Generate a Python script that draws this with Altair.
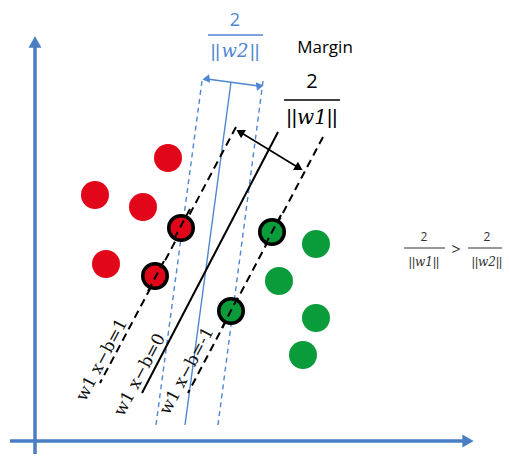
import altair as alt
import pandas as pd

# ---- data (units measured from the axis origin) ----
red_x = [133, 60, 108, 71]
red_y = [283, 246, 234, 177]
red_sv_x = [146, 120]
red_sv_y = [213, 165]
green_x = [281, 244, 281, 268]
green_y = [197, 160, 123, 86]
green_sv_x = [237, 196]
green_sv_y = [209, 130]

# lines: (x1, y1, x2, y2)
black_dashed = [(201, 314, 65, 58), (288, 304, 153, 48)]
black_solid = [(243, 309, 107, 48)]
blue_dashed = [(167, 360, 121, 16), (228, 360, 183, 16)]
blue_solid = [(196, 359, 150, 16)]
axes_lines = [(0, -21, 0, 396), (-25, 0, 430, 0)]
blue_arrow = [(172, 362, 224, 355)]
black_arrow = [(205, 309, 264, 273)]

line_labels = ["w1 x−b=1", "w1 x−b=0", "w1 x−b=-1"]
line_label_x = [67, 105, 152]
line_label_y = [81, 66, 70]

RED = "#E2061A"
GREEN = "#0A9B3B"
BLUE = "#4F86D0"
AXIS = "#4A7EC2"

X = alt.Scale(domain=[-27, 467])
Y = alt.Scale(domain=[-13, 433])


def seg_df(segs):
    return pd.DataFrame(segs, columns=["x", "y", "x2", "y2"])


def rules(segs, color, width, dash=None):
    kw = dict(color=color, strokeWidth=width)
    if dash:
        kw["strokeDash"] = dash
    return alt.Chart(seg_df(segs)).mark_rule(**kw).encode(
        x=alt.X("x:Q", scale=X, axis=None),
        y=alt.Y("y:Q", scale=Y, axis=None),
        x2="x2:Q",
        y2="y2:Q",
    )


def pts(xs, ys, **kw):
    return alt.Chart(pd.DataFrame({"x": xs, "y": ys})).mark_point(**kw).encode(
        x=alt.X("x:Q", scale=X, axis=None),
        y=alt.Y("y:Q", scale=Y, axis=None),
    )


def txt(xs, ys, labels, **kw):
    return alt.Chart(pd.DataFrame({"x": xs, "y": ys, "t": labels})).mark_text(**kw).encode(
        x=alt.X("x:Q", scale=X, axis=None),
        y=alt.Y("y:Q", scale=Y, axis=None),
        text="t:N",
    )


def norm(cx, cy, name, size, color, half):
    return [
        txt([cx], [cy], [name], fontSize=size, font="DejaVu Serif", fontStyle="italic", color=color),
        txt([cx], [cy], ["||"], fontSize=size, font="Liberation Sans", color=color,
            align="right", dx=-half),
        txt([cx], [cy], ["||"], fontSize=size, font="Liberation Sans", color=color,
            align="left", dx=half),
    ]


layers = []
# axes
layers.append(rules(axes_lines, AXIS, 3.5))
layers.append(pts([0], [399], shape="triangle-up", filled=True, size=170, color=AXIS, opacity=1))
layers.append(pts([433], [0], shape="triangle-right", filled=True, size=170, color=AXIS, opacity=1))

# hyperplanes
layers.append(rules(blue_dashed, BLUE, 1.4, [5, 4]))
layers.append(rules(blue_solid, BLUE, 1.4))
layers.append(rules(black_dashed, "black", 2, [8, 5]))
layers.append(rules(black_solid, "black", 2))

# arrows
layers.append(rules(blue_arrow, BLUE, 1.4))
layers.append(pts([171], [362], shape="triangle-left", filled=True, size=70, color=BLUE, opacity=1, angle=352))
layers.append(pts([225], [355], shape="triangle-right", filled=True, size=70, color=BLUE, opacity=1, angle=352))
layers.append(rules(black_arrow, "black", 1.6))
layers.append(pts([205], [309], shape="triangle-left", filled=True, size=90, color="black", opacity=1, angle=31))
layers.append(pts([264], [273], shape="triangle-right", filled=True, size=90, color="black", opacity=1, angle=31))

# points
layers.append(pts(red_x, red_y, shape="circle", filled=True, size=784, color=RED, opacity=1))
layers.append(pts(green_x, green_y, shape="circle", filled=True, size=784, color=GREEN, opacity=1))
layers.append(pts(red_sv_x, red_sv_y, shape="circle", filled=True, size=600, fill=RED, stroke="black", strokeWidth=3.5, opacity=1))
layers.append(pts(green_sv_x, green_sv_y, shape="circle", filled=True, size=600, fill=GREEN, stroke="black", strokeWidth=3.5, opacity=1))
# dashed lines pass over the support vectors
layers.append(rules([(155, 232, 139, 202), (113, 150, 129, 180)], "black", 2, [8, 5]))
layers.append(rules([(246, 226, 228, 192), (187, 113, 204, 146)], "black", 2, [8, 5]))

# rotated labels
layers.append(txt(line_label_x, line_label_y, line_labels, angle=298, fontSize=17,
                  font="DejaVu Serif", color="#111111"))

# fractions
layers.append(txt([200], [420], ["2"], fontSize=18, font="Open Sans", color=BLUE))
layers.append(rules([(173, 406, 228, 406)], BLUE, 1.5))
layers += norm(200, 389, "w2", 18, BLUE, 15)

layers.append(txt([290], [393], ["Margin"], fontSize=17, font="Open Sans", color="black"))

layers.append(txt([277], [359], ["2"], fontSize=20, font="Open Sans", color="black"))
layers.append(rules([(249, 341, 305, 341)], "black", 1.6))
layers += norm(277, 323, "w1", 20, "black", 15)

layers.append(txt([389, 452], [204, 204], ["2", "2"], fontSize=12, font="Open Sans", color="#333333"))
layers.append(rules([(369, 193, 410, 193), (433, 193, 467, 193)], "#333333", 1.2))
layers += norm(389, 179, "w1", 12, "#333333", 9)
layers += norm(452, 179, "w2", 12, "#333333", 9)
layers.append(txt([421], [191], [">"], fontSize=16, font="Open Sans", color="#333333"))

chart = alt.layer(*layers).properties(
    width=494, height=446, padding=0,
    autosize=alt.AutoSizeParams(type="none"),
).configure_view(stroke=None)

chart.save("out.html", embed_options={"renderer": "svg", "actions": False})
